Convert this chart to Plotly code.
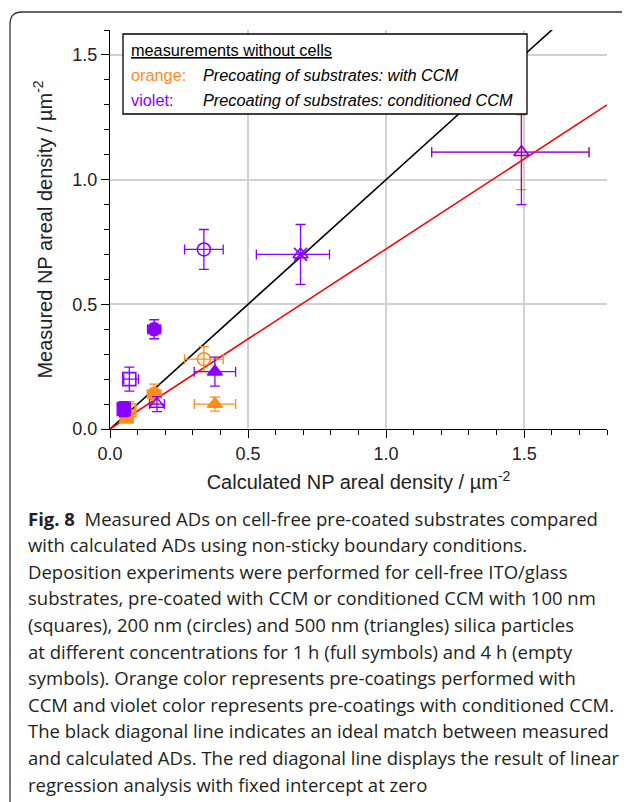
import plotly.graph_objects as go

# orange: precoating with CCM
orange_x = [0.06, 0.07, 0.16, 0.34, 0.38, 1.49]
orange_y = [0.05, 0.075, 0.14, 0.28, 0.10, 1.11]
orange_xerr_minus = [0.015, 0.02, 0.025, 0.07, 0.075, 0.325]
orange_xerr_plus = [0.015, 0.02, 0.025, 0.07, 0.075, 0.245]
orange_yerr = [0.02, 0.035, 0.04, 0.05, 0.028, 0.15]
orange_symbols = ["square", "square-open", "circle", "circle-open", "triangle-up", "triangle-up-open"]

# violet: precoating with conditioned CCM
violet_x = [0.05, 0.07, 0.16, 0.34, 0.38, 0.17, 0.69, 1.49]
violet_y = [0.08, 0.20, 0.40, 0.72, 0.23, 0.10, 0.70, 1.11]
violet_xerr_minus = [0.015, 0.02, 0.024, 0.07, 0.075, 0.027, 0.16, 0.325]
violet_xerr_plus = [0.015, 0.033, 0.024, 0.07, 0.075, 0.027, 0.105, 0.245]
violet_yerr = [0.03, 0.048, 0.038, 0.08, 0.058, 0.03, 0.12, 0.21]
violet_symbols = ["square", "square-open", "circle", "circle-open", "triangle-up",
                  "triangle-up-open", "triangle-up-open", "triangle-up-open"]

ideal_x = [0.0, 1.8]
fit_x = [0.0, 1.8]
fit_slope = 0.722

caption = [
    "<b>Fig. 8</b>  Measured ADs on cell-free pre-coated substrates compared",
    "with calculated ADs using non-sticky boundary conditions.",
    "Deposition experiments were performed for cell-free ITO/glass",
    "substrates, pre-coated with CCM or conditioned CCM with 100 nm",
    "(squares), 200 nm (circles) and 500 nm (triangles) silica particles",
    "at different concentrations for 1 h (full symbols) and 4 h (empty",
    "symbols). Orange color represents pre-coatings performed with",
    "CCM and violet color represents pre-coatings with conditioned CCM.",
    "The black diagonal line indicates an ideal match between measured",
    "and calculated ADs. The red diagonal line displays the result of linear",
    "regression analysis with fixed intercept at zero",
]

ORANGE = "#ff8c1a"
VIOLET = "#8a00ff"

# plot area in page pixels; the page body adds an 8px offset
L, R, T, B = 110, 607, 30, 429
W, H = 630, 802
OFF = 8


def px(x):
    return (x - L) / (R - L)


def py(y):
    return (B - y) / (B - T)


fig = go.Figure()

fig.add_trace(go.Scatter(x=ideal_x, y=ideal_x, mode="lines",
                         line=dict(color="black", width=1.6), showlegend=False))
fig.add_trace(go.Scatter(x=fit_x, y=[v * fit_slope for v in fit_x], mode="lines",
                         line=dict(color="#ff0000", width=1.6), showlegend=False))

fig.add_trace(go.Scatter(
    x=orange_x, y=orange_y, mode="markers", showlegend=False,
    marker=dict(symbol=orange_symbols, size=13, color=ORANGE, line=dict(color=ORANGE, width=1.6)),
    error_x=dict(type="data", symmetric=False, array=orange_xerr_plus, arrayminus=orange_xerr_minus,
                 color=ORANGE, thickness=1.3, width=5),
    error_y=dict(type="data", array=orange_yerr, color=ORANGE, thickness=1.3, width=5),
))
fig.add_trace(go.Scatter(
    x=violet_x, y=violet_y, mode="markers", showlegend=False,
    marker=dict(symbol=violet_symbols, size=13, color=VIOLET, line=dict(color=VIOLET, width=1.6)),
    error_x=dict(type="data", symmetric=False, array=violet_xerr_plus, arrayminus=violet_xerr_minus,
                 color=VIOLET, thickness=1.3, width=5),
    error_y=dict(type="data", array=violet_yerr, color=VIOLET, thickness=1.3, width=5),
))
# cross drawn over the violet triangle at ~0.7
fig.add_trace(go.Scatter(x=[violet_x[6]], y=[violet_y[6]], mode="markers", showlegend=False,
                         marker=dict(symbol="x-thin-open", size=13, color=VIOLET,
                                     line=dict(color=VIOLET, width=1.6))))

axis_font = dict(family="Liberation Sans, Arial", size=18, color="#222")
common = dict(
    showline=True, linecolor="black", linewidth=1.3,
    ticks="outside", ticklen=8, tickwidth=1.3, tickcolor="black",
    showgrid=True, gridcolor="#d2d2d2", gridwidth=1.5, zeroline=False,
    tickfont=axis_font, tickformat=".1f", dtick=0.5,
    minor=dict(dtick=0.1, ticks="outside", ticklen=5, tickwidth=1.3, tickcolor="black", showgrid=False),
)
fig.update_xaxes(range=[0, 1.8],
                 title=dict(text="Calculated NP areal density / µm<sup>-2</sup>", standoff=12,
                            font=dict(family="Liberation Sans, Arial", size=20, color="#222")),
                 **common)
fig.update_yaxes(range=[0, 1.6],
                 title=dict(text="Measured NP areal density / µm<sup>-2</sup>", standoff=14,
                            font=dict(family="Liberation Sans, Arial", size=20, color="#222")),
                 **common)

# figure frame with a rounded corner
border = (f"M {px(10)},{py(820)} L {px(10)},{py(24)} Q {px(10)},{py(12)} {px(22)},{py(12)} "
          f"L {px(650)},{py(12)}")
shapes = [
    dict(type="path", path=border, xref="paper", yref="paper", line=dict(color="#333", width=1.3)),
    dict(type="rect", xref="paper", yref="paper", x0=px(123), x1=px(527), y0=py(34), y1=py(114),
         fillcolor="white", line=dict(color="black", width=1.3), layer="above"),
]

leg_font = dict(family="Liberation Sans, Arial", size=16.3, color="black")
annotations = [
    dict(text="<u>measurements without cells</u>", x=px(129), y=py(50), font=leg_font),
    dict(text="orange:", x=px(129), y=py(75), font=dict(leg_font, color=ORANGE)),
    dict(text="<i>Precoating of substrates: with CCM</i>", x=px(201), y=py(75), font=leg_font),
    dict(text="violet:", x=px(129), y=py(100), font=dict(leg_font, color=VIOLET)),
    dict(text="<i>Precoating of substrates: conditioned CCM</i>", x=px(201), y=py(100), font=leg_font),
]
for i, line in enumerate(caption):
    annotations.append(dict(text=line, x=px(26), y=py(518 + i * 26.6),
                            font=dict(family="Open Sans", size=18.5, color="#231f20")))
for a in annotations:
    a.update(xref="paper", yref="paper", xanchor="left", yanchor="middle", showarrow=False)

fig.update_layout(
    width=W, height=H,
    margin=dict(l=L - OFF, r=W - (R - OFF), t=T - OFF, b=H - (B - OFF)),
    paper_bgcolor="white", plot_bgcolor="white",
    shapes=shapes, annotations=annotations,
)

fig.write_html("out.html")
